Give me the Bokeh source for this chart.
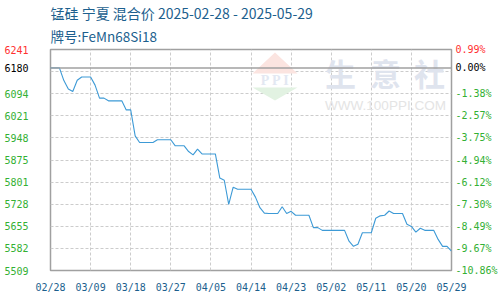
from bokeh.plotting import figure
from bokeh.models import Range1d, FixedTicker, LinearAxis, Span, Label, Title
from bokeh.embed import file_html
from bokeh.resources import INLINE

# ---- data (daily prices, 2025-02-28 .. 2025-05-29) ----
values = [6180, 6180, 6180, 6138, 6110, 6102, 6139, 6150, 6150, 6150,
          6123, 6080, 6080, 6071, 6071, 6071, 6071, 6041, 6041, 5955,
          5933, 5933, 5933, 5933, 5942, 5942, 5942, 5942, 5922, 5922,
          5922, 5903, 5892, 5911, 5895, 5895, 5895, 5895, 5815, 5808,
          5728, 5785, 5778, 5778, 5778, 5778, 5752, 5717, 5699, 5698,
          5698, 5698, 5720, 5698, 5705, 5692, 5692, 5692, 5692, 5651,
          5651, 5642, 5642, 5642, 5642, 5642, 5642, 5606, 5589, 5596,
          5634, 5634, 5634, 5682, 5690, 5692, 5706, 5698, 5698, 5698,
          5662, 5655, 5636, 5649, 5642, 5642, 5642, 5612, 5589, 5589,
          5573]
days = list(range(len(values)))
base_value = 6180
y_min, y_max = 5509, 6241

title_line1 = "锰硅 宁夏 混合价 2025-02-28 - 2025-05-29"
title_line2 = "牌号:FeMn68Si18"

x_tick_days = [0, 9, 18, 27, 36, 45, 54, 63, 72, 81, 90]
x_tick_labels = ["02/28", "03/09", "03/18", "03/27", "04/05", "04/14",
                 "04/23", "05/02", "05/11", "05/20", "05/29"]
y_grid_ticks = [6167.8, 6094.6, 6021.4, 5948.2, 5875.0, 5801.8,
                5728.6, 5655.4, 5582.2]
left_ticks = [6094, 6021, 5948, 5875, 5801, 5728, 5655, 5582, 5509]
right_labels = ["-1.38%", "-2.57%", "-3.75%", "-4.94%", "-6.12%",
                "-7.30%", "-8.49%", "-9.67%", "-10.86%"]
top_right_label = "0.99%"
base_right_label = "0.00%"

GREEN = "#33b033"
RED = "#ff3030"
BLUE_TXT = "#1c5f8e"
AXIS_FONT = "DejaVu Sans Mono"
AXIS_PX = 10
AXIS_SIZE = f"{AXIS_PX}px"
CHAR_W = 0.602 * AXIS_PX   # advance width of the mono font
LABEL_PAD = 3              # padding bokeh adds to an axis' label extent

W, H = 500, 300
ML, MR, MT, MB = 50, 49, 49, 30
x0, x1 = 0, 90

p = figure(width=W, height=H, output_backend="svg", toolbar_location=None,
           x_range=Range1d(x0, x1), y_range=Range1d(y_min, y_max),
           min_border_left=ML, min_border_right=MR, min_border_top=MT,
           min_border_bottom=MB, background_fill_color="white",
           border_fill_color="white", title=None)
p.outline_line_color = "#a0a0a0"
p.outline_line_width = 1.5

fw = W - ML - MR
fh = H - MT - MB


def px(xp, yp):
    """pixel position on the canvas -> data coordinates (for decoration)"""
    return (x0 + (xp - ML) * (x1 - x0) / fw,
            y_max - (yp - MT) * (y_max - y_min) / fh)


# grids
p.xgrid.ticker = FixedTicker(ticks=x_tick_days[1:-1])
p.ygrid.ticker = FixedTicker(ticks=y_grid_ticks)
for g in (p.xgrid, p.ygrid):
    g.grid_line_color = "#cccccc"
    g.grid_line_dash = "3 2"
    g.grid_line_width = 1

# watermark
wm_red = [px(252, 73), px(274.5, 52), px(297, 73)]
wm_green = [px(252, 87), px(297, 87), px(274.5, 100)]
p.patch([a for a, b in wm_red], [b for a, b in wm_red], fill_color="#fbe4e0", line_color=None)
p.patch([a for a, b in wm_green], [b for a, b in wm_green], fill_color="#e2f2e2", line_color=None)
lx, ly = px(275, 80)
p.add_layout(Label(x=lx, y=ly, text="P P I", text_align="center", text_baseline="middle",
                   text_font="Liberation Serif", text_font_style="bold",
                   text_font_size="14px", text_color="#e3e8f2"))
for ch, cx in zip("生意社", (340, 385, 429)):
    lx, ly = px(cx, 72)
    p.add_layout(Label(x=lx, y=ly, text=ch, text_align="center", text_baseline="middle",
                       text_font="Noto Sans CJK SC", text_font_style="bold",
                       text_font_size="31px", text_color="#dfe4ee"))
lx, ly = px(385, 105)
p.add_layout(Label(x=lx, y=ly, text="WWW.100PPI.COM", text_align="center", text_baseline="middle",
                   text_font="Liberation Sans", text_font_size="13.5px", text_color="#e4e4e4"))

# base line
p.add_layout(Span(location=base_value, dimension="width", line_color="#a0a0a0", line_width=1.5))

# price line
p.line(days, values, line_color="#3d9ad6", line_width=1.1)


def style(ax, color, standoff):
    ax.axis_line_color = None
    ax.major_tick_line_color = None
    ax.minor_tick_line_color = None
    ax.major_tick_out = 0
    ax.major_tick_in = 0
    ax.major_label_text_font = AXIS_FONT
    ax.major_label_text_font_size = AXIS_SIZE
    ax.major_label_text_color = color
    ax.major_label_standoff = standoff


# x axis
style(p.xaxis[0], BLUE_TXT, 11)
p.xaxis.ticker = FixedTicker(ticks=x_tick_days)
p.xaxis.major_label_overrides = dict(zip(x_tick_days, x_tick_labels))

# left axes: inner red top label, then black base label and green ticks
# stacked on it (negative standoff cancels the inner axis width)
w4 = round(4 * CHAR_W + LABEL_PAD)
style(p.yaxis[0], RED, 22)
p.yaxis.ticker = FixedTicker(ticks=[y_max])
for ticks, col in (([base_value], "black"), (left_ticks, GREEN)):
    ax = LinearAxis(ticker=FixedTicker(ticks=ticks))
    style(ax, col, -w4)
    p.add_layout(ax, "left")

# right axes (percent change against the base)
w5 = round(5 * CHAR_W + LABEL_PAD)
for ticks, labels, col, so in (([y_max], [top_right_label], RED, 4),
                               ([base_value], [base_right_label], "black", -w5),
                               (left_ticks, right_labels, GREEN, -w5)):
    ax = LinearAxis(ticker=FixedTicker(ticks=ticks),
                    major_label_overrides=dict(zip(ticks, labels)))
    style(ax, col, so)
    p.add_layout(ax, "right")

# titles (nearest to the frame first)
for txt, so, sz in ((title_line2, 8, "13.5px"), (title_line1, -7, "14px")):
    p.add_layout(Title(text=txt, align="left", text_font="Noto Sans CJK SC",
                       text_font_size=sz, text_font_style="normal",
                       text_color=BLUE_TXT, standoff=so), "above")

open("out.html", "w").write(file_html(p, INLINE))
